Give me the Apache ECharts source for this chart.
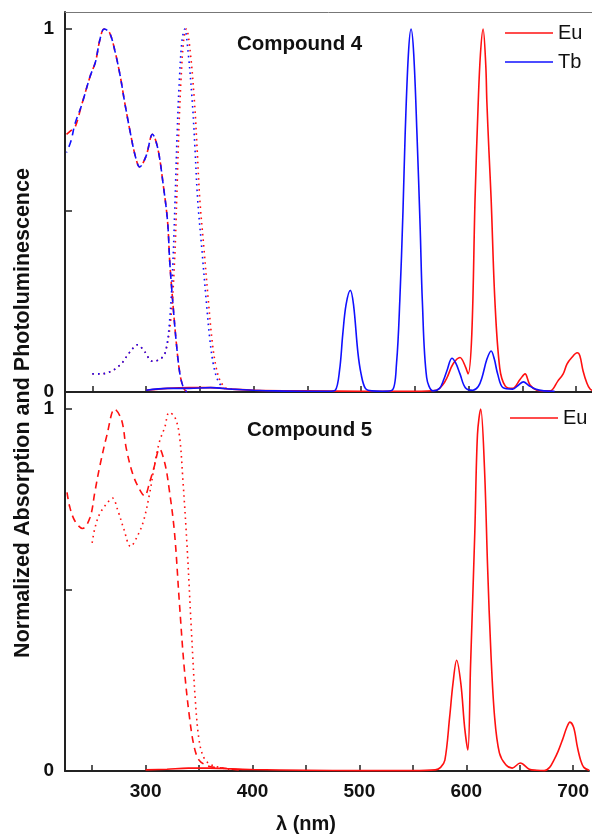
<!DOCTYPE html>
<html>
<head>
  <meta charset="utf-8">
</head>
<body style="margin: 0; background: #fff">
  <div id="container" style="width: 592px; height: 836px"></div>

  <script type="text/javascript" src="https://fastly.jsdelivr.net/npm/echarts@6.0.0/dist/echarts.min.js"></script>

  <script type="text/javascript">
    // x tick positions / labels (nm)
    var xTickValues = [250, 300, 350, 400, 450, 500, 550, 600, 650, 700];
    var xTickLabels = [300, 400, 500, 600, 700];
    var yTickValues = [0, 0.5, 1];
    var yTickLabels = [0, 1];

    // Compound 4 - absorption (dashed)
    var c4AbsWl = [226, 230, 234, 240, 248, 253, 257, 261, 266, 271, 276, 280, 285, 290, 294, 300, 306, 311, 316, 320, 322, 324, 328, 331.5, 335, 338];
    var c4AbsEu = [0.71, 0.72, 0.73, 0.79, 0.87, 0.91, 0.97, 1.0, 0.99, 0.94, 0.87, 0.80, 0.72, 0.65, 0.62, 0.65, 0.71, 0.67, 0.57, 0.47, 0.36, 0.28, 0.14, 0.05, 0.01, 0];
    var c4AbsTb = [0.66, 0.69, 0.74, 0.79, 0.87, 0.91, 0.97, 1.0, 0.99, 0.94, 0.87, 0.80, 0.72, 0.65, 0.62, 0.65, 0.71, 0.67, 0.57, 0.47, 0.36, 0.28, 0.14, 0.05, 0.01, 0];

    // Compound 4 - excitation (dotted)
    var c4ExcTbWl = [250, 257, 266, 276, 285, 292, 299, 305.5, 313, 318, 322, 325, 327, 329, 331, 333.5, 336, 339, 343, 345.5, 348, 352, 356, 359.5, 363, 367, 371, 375];
    var c4ExcEuWl = [250, 257, 266, 276, 285, 292, 299, 305.5, 313, 318, 323, 326.5, 328.5, 330.5, 332.5, 335, 337.5, 341, 345, 347.5, 350, 354, 358, 361.5, 365, 369, 373, 377];
    var c4ExcVal = [0.05, 0.05, 0.055, 0.075, 0.11, 0.13, 0.11, 0.085, 0.09, 0.11, 0.2, 0.36, 0.53, 0.72, 0.86, 0.97, 1.0, 0.94, 0.80, 0.67, 0.53, 0.39, 0.25, 0.14, 0.07, 0.03, 0.014, 0.005];

    // Compound 4 - emission (solid)
    var c4EmTbWl = [300, 320, 340, 360, 380, 400, 420, 450, 470, 476, 480, 483, 486, 490, 493, 497, 500, 504, 510, 520, 529, 533, 536, 539, 541, 544, 546.5, 549, 552, 555, 557, 561, 567, 573, 577, 580, 584.5, 588, 592, 597, 604, 609, 612.5, 617, 621, 624, 627, 632, 641, 646, 651, 656, 662, 670, 680];
    var c4EmTb = [0.005, 0.01, 0.01, 0.012, 0.008, 0.005, 0.003, 0.002, 0.002, 0.005, 0.06, 0.16, 0.24, 0.28, 0.24, 0.11, 0.05, 0.01, 0.003, 0.002, 0.005, 0.08, 0.25, 0.5, 0.71, 0.93, 1.0, 0.93, 0.71, 0.45, 0.25, 0.04, 0.003, 0.01, 0.035, 0.06, 0.093, 0.08, 0.05, 0.012, 0.005, 0.015, 0.04, 0.09, 0.113, 0.09, 0.05, 0.012, 0.008, 0.018, 0.028, 0.018, 0.008, 0.003, 0.002];
    var c4EmEuWl = [300, 320, 340, 360, 380, 400, 450, 500, 550, 570, 576, 580, 585.5, 592, 597, 599.5, 603, 606, 609, 611, 613.5, 616, 617, 619, 621, 624.5, 629, 634, 641, 648, 652.5, 657, 663.5, 670, 676, 683, 688, 691.5, 696, 701, 703.5, 706.5, 710, 713, 716];
    var c4EmEu = [0.005, 0.01, 0.012, 0.012, 0.008, 0.005, 0.003, 0.002, 0.002, 0.005, 0.02, 0.04, 0.077, 0.095, 0.07, 0.05, 0.16, 0.53, 0.80, 0.93, 1.0, 0.9, 0.80, 0.66, 0.53, 0.25, 0.066, 0.017, 0.01, 0.035, 0.05, 0.02, 0.005, 0.003, 0.003, 0.03, 0.05, 0.077, 0.095, 0.108, 0.1, 0.058, 0.025, 0.008, 0.003];

    // Compound 5 - absorption (dashed), excitation (dotted), emission (solid)
    var c5AbsWl = [226.5, 229, 234, 241, 248, 252.5, 257, 264, 271, 277.5, 282, 288, 294, 299, 304, 308, 313, 318, 322, 327, 331.5, 336, 341, 345.5, 350, 356, 364, 372, 381, 390];
    var c5Abs = [0.77, 0.73, 0.69, 0.67, 0.70, 0.77, 0.84, 0.93, 1.0, 0.97, 0.89, 0.82, 0.78, 0.76, 0.80, 0.84, 0.89, 0.85, 0.78, 0.66, 0.47, 0.29, 0.15, 0.066, 0.03, 0.017, 0.01, 0.008, 0.005, 0.002];
    var c5ExcWl = [250, 252.5, 257, 264, 269, 274, 279.5, 286, 292.5, 298, 304, 308, 313, 318, 322, 327, 331.5, 335, 339, 343, 346.5, 350, 354, 359.5, 369, 380];
    var c5Exc = [0.63, 0.67, 0.71, 0.74, 0.754, 0.72, 0.67, 0.62, 0.65, 0.69, 0.77, 0.84, 0.91, 0.95, 0.99, 0.98, 0.93, 0.80, 0.61, 0.38, 0.196, 0.086, 0.04, 0.02, 0.01, 0.003];
    var c5EmWl = [300, 320, 340, 360, 380, 400, 450, 500, 550, 571, 576, 580, 584.5, 587.5, 591, 595, 598.5, 601.5, 604, 608, 610.5, 613.5, 617, 620, 623, 626.5, 631, 637, 643, 650.5, 659, 666, 673, 678, 682, 686, 690, 694, 697, 700.5, 704, 707, 710, 715];
    var c5Em = [0.003, 0.005, 0.008, 0.008, 0.006, 0.004, 0.002, 0.001, 0.001, 0.003, 0.01, 0.03, 0.15, 0.24, 0.306, 0.24, 0.12, 0.058, 0.29, 0.66, 0.93, 1.0, 0.84, 0.56, 0.33, 0.15, 0.05, 0.017, 0.008, 0.022, 0.005, 0.002, 0.001, 0.01, 0.03, 0.055, 0.086, 0.12, 0.135, 0.12, 0.066, 0.03, 0.01, 0.002];

    var RED = '#ff1010';
    var BLUE = '#1010ff';
    var FONT = 'Liberation Sans, Arial, sans-serif';

    function pairs(xs, ys) {
      return xs.map(function (x, i) { return [x, ys[i]]; });
    }

    function curve(name, xs, ys, panel, color, type, offset) {
      return {
        name: name,
        type: 'line',
        xAxisIndex: panel,
        yAxisIndex: panel,
        data: pairs(xs, ys),
        symbol: 'none',
        smooth: 0.35,
        silent: true,
        lineStyle: { color: color, width: 1.6, type: type, dashOffset: offset || 0 },
        itemStyle: { color: color }
      };
    }

    function xAxis(panel) {
      return {
        type: 'value',
        gridIndex: panel,
        min: 224.6,
        max: 714.8,
        axisLine: { show: true, onZero: false, lineStyle: { color: '#222', width: 2 } },
        axisTick: { show: true, inside: true, length: 6, customValues: xTickValues, lineStyle: { color: '#222', width: 1.5 } },
        axisLabel: panel === 1
          ? { show: true, customValues: xTickLabels, margin: 11, fontSize: 19, fontWeight: 'bold', color: '#111', fontFamily: FONT }
          : { show: false },
        splitLine: { show: false }
      };
    }

    function yAxis(panel) {
      return {
        type: 'value',
        gridIndex: panel,
        min: 0,
        max: 1.047,
        axisLine: { show: true, lineStyle: { color: '#222', width: 2 } },
        axisTick: { show: true, inside: true, length: 7, customValues: yTickValues, lineStyle: { color: '#222', width: 1.5 } },
        axisLabel: { show: true, customValues: yTickLabels, margin: 11, fontSize: 19, fontWeight: 'bold', color: '#111', fontFamily: FONT },
        splitLine: { show: false }
      };
    }

    var dom = document.getElementById('container');
    var myChart = echarts.init(dom, null, { renderer: 'canvas' });

    var topFrame = xAxis(0);
    topFrame.position = 'top';
    topFrame.axisLine = { show: true, onZero: false, lineStyle: { color: '#777', width: 1 } };
    topFrame.axisTick = { show: false };
    topFrame.axisLabel = { show: false };

    var option = {
      animation: false,
      backgroundColor: '#fff',
      grid: [
        { left: 65, right: 0, top: 12, height: 380 },
        { left: 65, right: 0, top: 392, height: 379 }
      ],
      xAxis: [xAxis(0), xAxis(1), topFrame],
      yAxis: [yAxis(0), yAxis(1)],
      title: [
        { text: 'Compound 4', left: 237, top: 34, padding: 0, textStyle: { fontSize: 20.5, fontWeight: 'bold', color: '#111', fontFamily: FONT } },
        { text: 'Compound 5', left: 247, top: 420, padding: 0, textStyle: { fontSize: 20.5, fontWeight: 'bold', color: '#111', fontFamily: FONT } }
      ],
      legend: [
        {
          data: ['Eu', 'Tb'], orient: 'vertical', left: 505, top: 23, padding: 0, icon: 'rect',
          itemWidth: 48, itemHeight: 1.6, itemGap: 9, selectedMode: false,
          textStyle: { fontSize: 20, color: '#111', fontFamily: FONT }
        },
        {
          data: ['Eu'], orient: 'vertical', left: 510, top: 408, padding: 0, icon: 'rect',
          itemWidth: 48, itemHeight: 1.6, selectedMode: false,
          textStyle: { fontSize: 20, color: '#111', fontFamily: FONT }
        }
      ],
      graphic: [
        {
          type: 'text', x: 23, y: 413, rotation: Math.PI / 2,
          style: { text: 'Normalized Absorption and Photoluminescence', font: 'bold 21.5px ' + FONT, fill: '#111', align: 'center', verticalAlign: 'middle' }
        },
        {
          type: 'text', x: 306, y: 824,
          style: { text: '\u03bb (nm)', font: 'bold 20px ' + FONT, fill: '#111', align: 'center', verticalAlign: 'middle' }
        }
      ],
      series: [
        curve('Eu abs 4', c4AbsWl, c4AbsEu, 0, RED, [7, 5]),
        curve('Tb abs 4', c4AbsWl, c4AbsTb, 0, BLUE, [7, 5], 6),
        curve('Eu exc 4', c4ExcEuWl, c4ExcVal, 0, RED, [1.6, 4]),
        curve('Tb exc 4', c4ExcTbWl, c4ExcVal, 0, BLUE, [1.6, 4]),
        curve('Eu', c4EmEuWl, c4EmEu, 0, RED, 'solid'),
        curve('Tb', c4EmTbWl, c4EmTb, 0, BLUE, 'solid'),
        curve('Eu abs 5', c5AbsWl, c5Abs, 1, RED, [7, 5]),
        curve('Eu exc 5', c5ExcWl, c5Exc, 1, RED, [1.6, 4]),
        curve('Eu', c5EmWl, c5Em, 1, RED, 'solid')
      ]
    };

    myChart.setOption(option);
    window.addEventListener('resize', myChart.resize);
  </script>
</body>
</html>
